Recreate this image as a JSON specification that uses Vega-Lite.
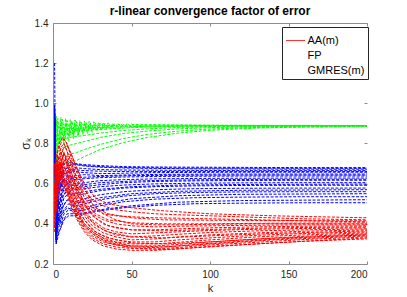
{
"$schema":"https://vega.github.io/schema/vega-lite/v6.json",
"width":314,"height":241,
"autosize":{"type":"none"},
"padding":{"left":53,"top":23,"right":40,"bottom":33},
"background":"white",
"config":{"view":{"stroke":null},"font":"Liberation Sans"},
"title":{"text":"r-linear convergence factor of error","fontSize":12,"font":"Liberation Sans","fontWeight":"bold","color":"black","offset":0,"anchor":"middle"},
"data":{"values":[
{"m":"FP","r":"g1","k":1,"s":0.55},{"m":"FP","r":"g1","k":2,"s":0.935},{"m":"FP","r":"g1","k":4,"s":0.80},{"m":"FP","r":"g1","k":5,"s":0.93},{"m":"FP","r":"g1","k":7,"s":0.82},{"m":"FP","r":"g1","k":8,"s":0.925},{"m":"FP","r":"g1","k":10,"s":0.835},{"m":"FP","r":"g1","k":11,"s":0.92},{"m":"FP","r":"g1","k":13,"s":0.845},{"m":"FP","r":"g1","k":14,"s":0.917},{"m":"FP","r":"g1","k":16,"s":0.852},{"m":"FP","r":"g1","k":17,"s":0.914},{"m":"FP","r":"g1","k":19,"s":0.858},{"m":"FP","r":"g1","k":20,"s":0.912},{"m":"FP","r":"g1","k":22,"s":0.863},{"m":"FP","r":"g1","k":23,"s":0.91},{"m":"FP","r":"g1","k":25,"s":0.867},{"m":"FP","r":"g1","k":26,"s":0.908},{"m":"FP","r":"g1","k":28,"s":0.871},{"m":"FP","r":"g1","k":29,"s":0.906},{"m":"FP","r":"g1","k":31,"s":0.874},{"m":"FP","r":"g1","k":32,"s":0.905},{"m":"FP","r":"g1","k":34,"s":0.877},{"m":"FP","r":"g1","k":35,"s":0.903},{"m":"FP","r":"g1","k":37,"s":0.879},{"m":"FP","r":"g1","k":38,"s":0.902},{"m":"FP","r":"g1","k":40,"s":0.881},{"m":"FP","r":"g1","k":41,"s":0.901},{"m":"FP","r":"g1","k":43,"s":0.883},{"m":"FP","r":"g1","k":44,"s":0.9},{"m":"FP","r":"g1","k":46,"s":0.885},{"m":"FP","r":"g1","k":47,"s":0.899},{"m":"FP","r":"g1","k":49,"s":0.886},{"m":"FP","r":"g1","k":50,"s":0.898},{"m":"FP","r":"g1","k":52,"s":0.887},{"m":"FP","r":"g1","k":60,"s":0.893},{"m":"FP","r":"g1","k":80,"s":0.892},{"m":"FP","r":"g1","k":100,"s":0.891},{"m":"FP","r":"g1","k":130,"s":0.89},{"m":"FP","r":"g1","k":160,"s":0.89},{"m":"FP","r":"g1","k":200,"s":0.889},
{"m":"FP","r":"g2","k":1,"s":0.45},{"m":"FP","r":"g2","k":2,"s":0.91},{"m":"FP","r":"g2","k":4,"s":0.76},{"m":"FP","r":"g2","k":5,"s":0.905},{"m":"FP","r":"g2","k":7,"s":0.79},{"m":"FP","r":"g2","k":8,"s":0.902},{"m":"FP","r":"g2","k":10,"s":0.81},{"m":"FP","r":"g2","k":11,"s":0.9},{"m":"FP","r":"g2","k":13,"s":0.825},{"m":"FP","r":"g2","k":14,"s":0.898},{"m":"FP","r":"g2","k":16,"s":0.835},{"m":"FP","r":"g2","k":17,"s":0.897},{"m":"FP","r":"g2","k":19,"s":0.843},{"m":"FP","r":"g2","k":20,"s":0.896},{"m":"FP","r":"g2","k":22,"s":0.85},{"m":"FP","r":"g2","k":23,"s":0.895},{"m":"FP","r":"g2","k":25,"s":0.856},{"m":"FP","r":"g2","k":26,"s":0.894},{"m":"FP","r":"g2","k":28,"s":0.861},{"m":"FP","r":"g2","k":29,"s":0.893},{"m":"FP","r":"g2","k":31,"s":0.865},{"m":"FP","r":"g2","k":32,"s":0.893},{"m":"FP","r":"g2","k":34,"s":0.869},{"m":"FP","r":"g2","k":35,"s":0.892},{"m":"FP","r":"g2","k":37,"s":0.872},{"m":"FP","r":"g2","k":38,"s":0.892},{"m":"FP","r":"g2","k":40,"s":0.875},{"m":"FP","r":"g2","k":41,"s":0.891},{"m":"FP","r":"g2","k":43,"s":0.877},{"m":"FP","r":"g2","k":44,"s":0.891},{"m":"FP","r":"g2","k":46,"s":0.879},{"m":"FP","r":"g2","k":47,"s":0.89},{"m":"FP","r":"g2","k":49,"s":0.88},{"m":"FP","r":"g2","k":50,"s":0.89},{"m":"FP","r":"g2","k":52,"s":0.882},{"m":"FP","r":"g2","k":60,"s":0.887},{"m":"FP","r":"g2","k":80,"s":0.886},{"m":"FP","r":"g2","k":100,"s":0.886},{"m":"FP","r":"g2","k":130,"s":0.885},{"m":"FP","r":"g2","k":160,"s":0.885},{"m":"FP","r":"g2","k":200,"s":0.885},
{"m":"FP","r":"g3","k":1,"s":0.65},{"m":"FP","r":"g3","k":2,"s":0.78},{"m":"FP","r":"g3","k":3,"s":0.925},{"m":"FP","r":"g3","k":5,"s":0.81},{"m":"FP","r":"g3","k":6,"s":0.92},{"m":"FP","r":"g3","k":8,"s":0.83},{"m":"FP","r":"g3","k":9,"s":0.915},{"m":"FP","r":"g3","k":11,"s":0.842},{"m":"FP","r":"g3","k":12,"s":0.912},{"m":"FP","r":"g3","k":14,"s":0.85},{"m":"FP","r":"g3","k":15,"s":0.909},{"m":"FP","r":"g3","k":17,"s":0.857},{"m":"FP","r":"g3","k":18,"s":0.907},{"m":"FP","r":"g3","k":20,"s":0.862},{"m":"FP","r":"g3","k":21,"s":0.905},{"m":"FP","r":"g3","k":23,"s":0.867},{"m":"FP","r":"g3","k":24,"s":0.903},{"m":"FP","r":"g3","k":26,"s":0.871},{"m":"FP","r":"g3","k":27,"s":0.902},{"m":"FP","r":"g3","k":29,"s":0.874},{"m":"FP","r":"g3","k":30,"s":0.901},{"m":"FP","r":"g3","k":32,"s":0.877},{"m":"FP","r":"g3","k":33,"s":0.9},{"m":"FP","r":"g3","k":35,"s":0.879},{"m":"FP","r":"g3","k":36,"s":0.899},{"m":"FP","r":"g3","k":38,"s":0.881},{"m":"FP","r":"g3","k":39,"s":0.898},{"m":"FP","r":"g3","k":41,"s":0.883},{"m":"FP","r":"g3","k":42,"s":0.897},{"m":"FP","r":"g3","k":44,"s":0.885},{"m":"FP","r":"g3","k":45,"s":0.896},{"m":"FP","r":"g3","k":47,"s":0.886},{"m":"FP","r":"g3","k":48,"s":0.895},{"m":"FP","r":"g3","k":50,"s":0.887},{"m":"FP","r":"g3","k":51,"s":0.895},{"m":"FP","r":"g3","k":60,"s":0.892},{"m":"FP","r":"g3","k":80,"s":0.891},{"m":"FP","r":"g3","k":100,"s":0.89},{"m":"FP","r":"g3","k":130,"s":0.89},{"m":"FP","r":"g3","k":160,"s":0.889},{"m":"FP","r":"g3","k":200,"s":0.889},
{"m":"FP","r":"g4","k":1,"s":0.5},{"m":"FP","r":"g4","k":3,"s":0.85},{"m":"FP","r":"g4","k":6,"s":0.86},{"m":"FP","r":"g4","k":10,"s":0.86},{"m":"FP","r":"g4","k":15,"s":0.862},{"m":"FP","r":"g4","k":20,"s":0.865},{"m":"FP","r":"g4","k":30,"s":0.87},{"m":"FP","r":"g4","k":45,"s":0.877},{"m":"FP","r":"g4","k":60,"s":0.882},{"m":"FP","r":"g4","k":80,"s":0.886},{"m":"FP","r":"g4","k":100,"s":0.888},{"m":"FP","r":"g4","k":130,"s":0.889},{"m":"FP","r":"g4","k":160,"s":0.889},{"m":"FP","r":"g4","k":200,"s":0.889},
{"m":"FP","r":"g5","k":1,"s":0.6},{"m":"FP","r":"g5","k":3,"s":0.8},{"m":"FP","r":"g5","k":6,"s":0.82},{"m":"FP","r":"g5","k":10,"s":0.83},{"m":"FP","r":"g5","k":15,"s":0.835},{"m":"FP","r":"g5","k":20,"s":0.84},{"m":"FP","r":"g5","k":30,"s":0.852},{"m":"FP","r":"g5","k":45,"s":0.865},{"m":"FP","r":"g5","k":60,"s":0.873},{"m":"FP","r":"g5","k":80,"s":0.88},{"m":"FP","r":"g5","k":100,"s":0.884},{"m":"FP","r":"g5","k":130,"s":0.887},{"m":"FP","r":"g5","k":160,"s":0.888},{"m":"FP","r":"g5","k":200,"s":0.888},
{"m":"FP","r":"g6","k":1,"s":0.4},{"m":"FP","r":"g6","k":3,"s":0.75},{"m":"FP","r":"g6","k":6,"s":0.78},{"m":"FP","r":"g6","k":10,"s":0.79},{"m":"FP","r":"g6","k":15,"s":0.8},{"m":"FP","r":"g6","k":20,"s":0.81},{"m":"FP","r":"g6","k":30,"s":0.83},{"m":"FP","r":"g6","k":45,"s":0.85},{"m":"FP","r":"g6","k":60,"s":0.862},{"m":"FP","r":"g6","k":80,"s":0.873},{"m":"FP","r":"g6","k":100,"s":0.879},{"m":"FP","r":"g6","k":130,"s":0.884},{"m":"FP","r":"g6","k":160,"s":0.886},{"m":"FP","r":"g6","k":200,"s":0.887},
{"m":"FP","r":"g7","k":1,"s":0.55},{"m":"FP","r":"g7","k":3,"s":0.72},{"m":"FP","r":"g7","k":6,"s":0.74},{"m":"FP","r":"g7","k":10,"s":0.745},{"m":"FP","r":"g7","k":15,"s":0.755},{"m":"FP","r":"g7","k":20,"s":0.77},{"m":"FP","r":"g7","k":30,"s":0.795},{"m":"FP","r":"g7","k":45,"s":0.825},{"m":"FP","r":"g7","k":60,"s":0.845},{"m":"FP","r":"g7","k":80,"s":0.862},{"m":"FP","r":"g7","k":100,"s":0.872},{"m":"FP","r":"g7","k":130,"s":0.88},{"m":"FP","r":"g7","k":160,"s":0.884},{"m":"FP","r":"g7","k":200,"s":0.886},
{"m":"FP","r":"g8","k":1,"s":0.45},{"m":"FP","r":"g8","k":3,"s":0.68},{"m":"FP","r":"g8","k":6,"s":0.7},{"m":"FP","r":"g8","k":10,"s":0.705},{"m":"FP","r":"g8","k":15,"s":0.715},{"m":"FP","r":"g8","k":20,"s":0.735},{"m":"FP","r":"g8","k":30,"s":0.77},{"m":"FP","r":"g8","k":45,"s":0.805},{"m":"FP","r":"g8","k":60,"s":0.83},{"m":"FP","r":"g8","k":80,"s":0.852},{"m":"FP","r":"g8","k":100,"s":0.866},{"m":"FP","r":"g8","k":130,"s":0.877},{"m":"FP","r":"g8","k":160,"s":0.882},{"m":"FP","r":"g8","k":200,"s":0.885},
{"m":"FP","r":"g9","k":1,"s":0.7},{"m":"FP","r":"g9","k":3,"s":0.88},{"m":"FP","r":"g9","k":6,"s":0.88},{"m":"FP","r":"g9","k":10,"s":0.875},{"m":"FP","r":"g9","k":15,"s":0.875},{"m":"FP","r":"g9","k":20,"s":0.877},{"m":"FP","r":"g9","k":30,"s":0.88},{"m":"FP","r":"g9","k":45,"s":0.883},{"m":"FP","r":"g9","k":60,"s":0.886},{"m":"FP","r":"g9","k":80,"s":0.888},{"m":"FP","r":"g9","k":100,"s":0.889},{"m":"FP","r":"g9","k":130,"s":0.889},{"m":"FP","r":"g9","k":160,"s":0.889},{"m":"FP","r":"g9","k":200,"s":0.889},
{"m":"AA(m)","r":"b1","k":1,"s":1.2},{"m":"AA(m)","r":"b1","k":2,"s":0.32},{"m":"AA(m)","r":"b1","k":3,"s":0.55},{"m":"AA(m)","r":"b1","k":5,"s":0.68},{"m":"AA(m)","r":"b1","k":7,"s":0.7},{"m":"AA(m)","r":"b1","k":10,"s":0.71},{"m":"AA(m)","r":"b1","k":14,"s":0.7},{"m":"AA(m)","r":"b1","k":20,"s":0.695},{"m":"AA(m)","r":"b1","k":30,"s":0.69},{"m":"AA(m)","r":"b1","k":45,"s":0.685},{"m":"AA(m)","r":"b1","k":65,"s":0.683},{"m":"AA(m)","r":"b1","k":90,"s":0.682},{"m":"AA(m)","r":"b1","k":120,"s":0.681},{"m":"AA(m)","r":"b1","k":160,"s":0.68},{"m":"AA(m)","r":"b1","k":200,"s":0.68},
{"m":"AA(m)","r":"b2","k":1,"s":0.97},{"m":"AA(m)","r":"b2","k":2,"s":0.45},{"m":"AA(m)","r":"b2","k":3,"s":0.6},{"m":"AA(m)","r":"b2","k":5,"s":0.7},{"m":"AA(m)","r":"b2","k":7,"s":0.66},{"m":"AA(m)","r":"b2","k":10,"s":0.69},{"m":"AA(m)","r":"b2","k":14,"s":0.695},{"m":"AA(m)","r":"b2","k":20,"s":0.688},{"m":"AA(m)","r":"b2","k":30,"s":0.682},{"m":"AA(m)","r":"b2","k":45,"s":0.678},{"m":"AA(m)","r":"b2","k":65,"s":0.676},{"m":"AA(m)","r":"b2","k":90,"s":0.674},{"m":"AA(m)","r":"b2","k":120,"s":0.673},{"m":"AA(m)","r":"b2","k":160,"s":0.672},{"m":"AA(m)","r":"b2","k":200,"s":0.672},
{"m":"AA(m)","r":"b3","k":1,"s":0.93},{"m":"AA(m)","r":"b3","k":2,"s":0.38},{"m":"AA(m)","r":"b3","k":3,"s":0.5},{"m":"AA(m)","r":"b3","k":5,"s":0.62},{"m":"AA(m)","r":"b3","k":7,"s":0.68},{"m":"AA(m)","r":"b3","k":10,"s":0.66},{"m":"AA(m)","r":"b3","k":14,"s":0.68},{"m":"AA(m)","r":"b3","k":20,"s":0.675},{"m":"AA(m)","r":"b3","k":30,"s":0.67},{"m":"AA(m)","r":"b3","k":45,"s":0.668},{"m":"AA(m)","r":"b3","k":65,"s":0.667},{"m":"AA(m)","r":"b3","k":90,"s":0.666},{"m":"AA(m)","r":"b3","k":120,"s":0.665},{"m":"AA(m)","r":"b3","k":160,"s":0.665},{"m":"AA(m)","r":"b3","k":200,"s":0.665},
{"m":"AA(m)","r":"b4","k":1,"s":0.99},{"m":"AA(m)","r":"b4","k":2,"s":0.5},{"m":"AA(m)","r":"b4","k":3,"s":0.65},{"m":"AA(m)","r":"b4","k":5,"s":0.58},{"m":"AA(m)","r":"b4","k":7,"s":0.64},{"m":"AA(m)","r":"b4","k":10,"s":0.67},{"m":"AA(m)","r":"b4","k":14,"s":0.66},{"m":"AA(m)","r":"b4","k":20,"s":0.655},{"m":"AA(m)","r":"b4","k":30,"s":0.65},{"m":"AA(m)","r":"b4","k":45,"s":0.652},{"m":"AA(m)","r":"b4","k":65,"s":0.655},{"m":"AA(m)","r":"b4","k":90,"s":0.656},{"m":"AA(m)","r":"b4","k":120,"s":0.657},{"m":"AA(m)","r":"b4","k":160,"s":0.657},{"m":"AA(m)","r":"b4","k":200,"s":0.657},
{"m":"AA(m)","r":"b5","k":1,"s":0.9},{"m":"AA(m)","r":"b5","k":2,"s":0.34},{"m":"AA(m)","r":"b5","k":3,"s":0.45},{"m":"AA(m)","r":"b5","k":5,"s":0.55},{"m":"AA(m)","r":"b5","k":7,"s":0.62},{"m":"AA(m)","r":"b5","k":10,"s":0.6},{"m":"AA(m)","r":"b5","k":14,"s":0.64},{"m":"AA(m)","r":"b5","k":20,"s":0.645},{"m":"AA(m)","r":"b5","k":30,"s":0.64},{"m":"AA(m)","r":"b5","k":45,"s":0.643},{"m":"AA(m)","r":"b5","k":65,"s":0.646},{"m":"AA(m)","r":"b5","k":90,"s":0.647},{"m":"AA(m)","r":"b5","k":120,"s":0.648},{"m":"AA(m)","r":"b5","k":160,"s":0.648},{"m":"AA(m)","r":"b5","k":200,"s":0.648},
{"m":"AA(m)","r":"b6","k":1,"s":0.95},{"m":"AA(m)","r":"b6","k":2,"s":0.42},{"m":"AA(m)","r":"b6","k":3,"s":0.58},{"m":"AA(m)","r":"b6","k":5,"s":0.66},{"m":"AA(m)","r":"b6","k":7,"s":0.6},{"m":"AA(m)","r":"b6","k":10,"s":0.63},{"m":"AA(m)","r":"b6","k":14,"s":0.62},{"m":"AA(m)","r":"b6","k":20,"s":0.625},{"m":"AA(m)","r":"b6","k":30,"s":0.63},{"m":"AA(m)","r":"b6","k":45,"s":0.633},{"m":"AA(m)","r":"b6","k":65,"s":0.636},{"m":"AA(m)","r":"b6","k":90,"s":0.637},{"m":"AA(m)","r":"b6","k":120,"s":0.638},{"m":"AA(m)","r":"b6","k":160,"s":0.638},{"m":"AA(m)","r":"b6","k":200,"s":0.638},
{"m":"AA(m)","r":"b7","k":1,"s":0.88},{"m":"AA(m)","r":"b7","k":2,"s":0.36},{"m":"AA(m)","r":"b7","k":3,"s":0.48},{"m":"AA(m)","r":"b7","k":5,"s":0.52},{"m":"AA(m)","r":"b7","k":7,"s":0.58},{"m":"AA(m)","r":"b7","k":10,"s":0.61},{"m":"AA(m)","r":"b7","k":14,"s":0.6},{"m":"AA(m)","r":"b7","k":20,"s":0.605},{"m":"AA(m)","r":"b7","k":30,"s":0.615},{"m":"AA(m)","r":"b7","k":45,"s":0.62},{"m":"AA(m)","r":"b7","k":65,"s":0.624},{"m":"AA(m)","r":"b7","k":90,"s":0.626},{"m":"AA(m)","r":"b7","k":120,"s":0.627},{"m":"AA(m)","r":"b7","k":160,"s":0.628},{"m":"AA(m)","r":"b7","k":200,"s":0.628},
{"m":"AA(m)","r":"b8","k":1,"s":0.92},{"m":"AA(m)","r":"b8","k":2,"s":0.3},{"m":"AA(m)","r":"b8","k":3,"s":0.42},{"m":"AA(m)","r":"b8","k":5,"s":0.5},{"m":"AA(m)","r":"b8","k":7,"s":0.55},{"m":"AA(m)","r":"b8","k":10,"s":0.57},{"m":"AA(m)","r":"b8","k":14,"s":0.58},{"m":"AA(m)","r":"b8","k":20,"s":0.585},{"m":"AA(m)","r":"b8","k":30,"s":0.595},{"m":"AA(m)","r":"b8","k":45,"s":0.605},{"m":"AA(m)","r":"b8","k":65,"s":0.611},{"m":"AA(m)","r":"b8","k":90,"s":0.614},{"m":"AA(m)","r":"b8","k":120,"s":0.616},{"m":"AA(m)","r":"b8","k":160,"s":0.617},{"m":"AA(m)","r":"b8","k":200,"s":0.617},
{"m":"AA(m)","r":"b9","k":1,"s":0.96},{"m":"AA(m)","r":"b9","k":2,"s":0.48},{"m":"AA(m)","r":"b9","k":3,"s":0.62},{"m":"AA(m)","r":"b9","k":5,"s":0.6},{"m":"AA(m)","r":"b9","k":7,"s":0.56},{"m":"AA(m)","r":"b9","k":10,"s":0.59},{"m":"AA(m)","r":"b9","k":14,"s":0.57},{"m":"AA(m)","r":"b9","k":20,"s":0.575},{"m":"AA(m)","r":"b9","k":30,"s":0.585},{"m":"AA(m)","r":"b9","k":45,"s":0.593},{"m":"AA(m)","r":"b9","k":65,"s":0.599},{"m":"AA(m)","r":"b9","k":90,"s":0.602},{"m":"AA(m)","r":"b9","k":120,"s":0.604},{"m":"AA(m)","r":"b9","k":160,"s":0.605},{"m":"AA(m)","r":"b9","k":200,"s":0.605},
{"m":"AA(m)","r":"b10","k":1,"s":0.86},{"m":"AA(m)","r":"b10","k":2,"s":0.33},{"m":"AA(m)","r":"b10","k":3,"s":0.4},{"m":"AA(m)","r":"b10","k":5,"s":0.47},{"m":"AA(m)","r":"b10","k":7,"s":0.53},{"m":"AA(m)","r":"b10","k":10,"s":0.55},{"m":"AA(m)","r":"b10","k":14,"s":0.54},{"m":"AA(m)","r":"b10","k":20,"s":0.55},{"m":"AA(m)","r":"b10","k":30,"s":0.565},{"m":"AA(m)","r":"b10","k":45,"s":0.578},{"m":"AA(m)","r":"b10","k":65,"s":0.585},{"m":"AA(m)","r":"b10","k":90,"s":0.589},{"m":"AA(m)","r":"b10","k":120,"s":0.591},{"m":"AA(m)","r":"b10","k":160,"s":0.592},{"m":"AA(m)","r":"b10","k":200,"s":0.592},
{"m":"AA(m)","r":"b11","k":1,"s":0.94},{"m":"AA(m)","r":"b11","k":2,"s":0.4},{"m":"AA(m)","r":"b11","k":3,"s":0.52},{"m":"AA(m)","r":"b11","k":5,"s":0.45},{"m":"AA(m)","r":"b11","k":7,"s":0.5},{"m":"AA(m)","r":"b11","k":10,"s":0.52},{"m":"AA(m)","r":"b11","k":14,"s":0.51},{"m":"AA(m)","r":"b11","k":20,"s":0.525},{"m":"AA(m)","r":"b11","k":30,"s":0.545},{"m":"AA(m)","r":"b11","k":45,"s":0.56},{"m":"AA(m)","r":"b11","k":65,"s":0.57},{"m":"AA(m)","r":"b11","k":90,"s":0.575},{"m":"AA(m)","r":"b11","k":120,"s":0.577},{"m":"AA(m)","r":"b11","k":160,"s":0.578},{"m":"AA(m)","r":"b11","k":200,"s":0.578},
{"m":"AA(m)","r":"b12","k":1,"s":0.91},{"m":"AA(m)","r":"b12","k":2,"s":0.35},{"m":"AA(m)","r":"b12","k":3,"s":0.38},{"m":"AA(m)","r":"b12","k":5,"s":0.44},{"m":"AA(m)","r":"b12","k":7,"s":0.47},{"m":"AA(m)","r":"b12","k":10,"s":0.5},{"m":"AA(m)","r":"b12","k":14,"s":0.49},{"m":"AA(m)","r":"b12","k":20,"s":0.5},{"m":"AA(m)","r":"b12","k":30,"s":0.52},{"m":"AA(m)","r":"b12","k":45,"s":0.538},{"m":"AA(m)","r":"b12","k":65,"s":0.55},{"m":"AA(m)","r":"b12","k":90,"s":0.556},{"m":"AA(m)","r":"b12","k":120,"s":0.559},{"m":"AA(m)","r":"b12","k":160,"s":0.56},{"m":"AA(m)","r":"b12","k":200,"s":0.56},
{"m":"AA(m)","r":"b13","k":1,"s":0.98},{"m":"AA(m)","r":"b13","k":2,"s":0.46},{"m":"AA(m)","r":"b13","k":3,"s":0.44},{"m":"AA(m)","r":"b13","k":5,"s":0.4},{"m":"AA(m)","r":"b13","k":7,"s":0.45},{"m":"AA(m)","r":"b13","k":10,"s":0.47},{"m":"AA(m)","r":"b13","k":14,"s":0.46},{"m":"AA(m)","r":"b13","k":20,"s":0.47},{"m":"AA(m)","r":"b13","k":30,"s":0.49},{"m":"AA(m)","r":"b13","k":45,"s":0.51},{"m":"AA(m)","r":"b13","k":65,"s":0.523},{"m":"AA(m)","r":"b13","k":90,"s":0.53},{"m":"AA(m)","r":"b13","k":120,"s":0.533},{"m":"AA(m)","r":"b13","k":160,"s":0.535},{"m":"AA(m)","r":"b13","k":200,"s":0.535},
{"m":"AA(m)","r":"b14","k":1,"s":0.87},{"m":"AA(m)","r":"b14","k":2,"s":0.31},{"m":"AA(m)","r":"b14","k":3,"s":0.35},{"m":"AA(m)","r":"b14","k":5,"s":0.38},{"m":"AA(m)","r":"b14","k":7,"s":0.42},{"m":"AA(m)","r":"b14","k":10,"s":0.44},{"m":"AA(m)","r":"b14","k":14,"s":0.44},{"m":"AA(m)","r":"b14","k":20,"s":0.45},{"m":"AA(m)","r":"b14","k":30,"s":0.465},{"m":"AA(m)","r":"b14","k":45,"s":0.48},{"m":"AA(m)","r":"b14","k":65,"s":0.492},{"m":"AA(m)","r":"b14","k":90,"s":0.5},{"m":"AA(m)","r":"b14","k":120,"s":0.503},{"m":"AA(m)","r":"b14","k":160,"s":0.505},{"m":"AA(m)","r":"b14","k":200,"s":0.505},
{"m":"AA(m)","r":"b15","k":1,"s":0.95},{"m":"AA(m)","r":"b15","k":2,"s":0.4},{"m":"AA(m)","r":"b15","k":4,"s":0.64},{"m":"AA(m)","r":"b15","k":6,"s":0.7},{"m":"AA(m)","r":"b15","k":9,"s":0.69},{"m":"AA(m)","r":"b15","k":13,"s":0.7},{"m":"AA(m)","r":"b15","k":20,"s":0.69},{"m":"AA(m)","r":"b15","k":30,"s":0.685},{"m":"AA(m)","r":"b15","k":50,"s":0.68},{"m":"AA(m)","r":"b15","k":80,"s":0.678},{"m":"AA(m)","r":"b15","k":120,"s":0.677},{"m":"AA(m)","r":"b15","k":200,"s":0.676},
{"m":"AA(m)","r":"b16","k":1,"s":0.89},{"m":"AA(m)","r":"b16","k":2,"s":0.52},{"m":"AA(m)","r":"b16","k":4,"s":0.6},{"m":"AA(m)","r":"b16","k":6,"s":0.66},{"m":"AA(m)","r":"b16","k":9,"s":0.64},{"m":"AA(m)","r":"b16","k":13,"s":0.67},{"m":"AA(m)","r":"b16","k":20,"s":0.665},{"m":"AA(m)","r":"b16","k":30,"s":0.662},{"m":"AA(m)","r":"b16","k":50,"s":0.66},{"m":"AA(m)","r":"b16","k":80,"s":0.661},{"m":"AA(m)","r":"b16","k":120,"s":0.661},{"m":"AA(m)","r":"b16","k":200,"s":0.661},
{"m":"AA(m)","r":"b17","k":1,"s":0.97},{"m":"AA(m)","r":"b17","k":2,"s":0.37},{"m":"AA(m)","r":"b17","k":4,"s":0.56},{"m":"AA(m)","r":"b17","k":6,"s":0.61},{"m":"AA(m)","r":"b17","k":9,"s":0.64},{"m":"AA(m)","r":"b17","k":13,"s":0.63},{"m":"AA(m)","r":"b17","k":20,"s":0.632},{"m":"AA(m)","r":"b17","k":30,"s":0.636},{"m":"AA(m)","r":"b17","k":50,"s":0.64},{"m":"AA(m)","r":"b17","k":80,"s":0.642},{"m":"AA(m)","r":"b17","k":120,"s":0.643},{"m":"AA(m)","r":"b17","k":200,"s":0.643},
{"m":"AA(m)","r":"b18","k":1,"s":0.92},{"m":"AA(m)","r":"b18","k":2,"s":0.44},{"m":"AA(m)","r":"b18","k":4,"s":0.5},{"m":"AA(m)","r":"b18","k":6,"s":0.57},{"m":"AA(m)","r":"b18","k":9,"s":0.6},{"m":"AA(m)","r":"b18","k":13,"s":0.59},{"m":"AA(m)","r":"b18","k":20,"s":0.595},{"m":"AA(m)","r":"b18","k":30,"s":0.605},{"m":"AA(m)","r":"b18","k":50,"s":0.613},{"m":"AA(m)","r":"b18","k":80,"s":0.618},{"m":"AA(m)","r":"b18","k":120,"s":0.621},{"m":"AA(m)","r":"b18","k":200,"s":0.622},
{"m":"AA(m)","r":"b19","k":1,"s":0.85},{"m":"AA(m)","r":"b19","k":2,"s":0.32},{"m":"AA(m)","r":"b19","k":4,"s":0.46},{"m":"AA(m)","r":"b19","k":6,"s":0.54},{"m":"AA(m)","r":"b19","k":9,"s":0.56},{"m":"AA(m)","r":"b19","k":13,"s":0.55},{"m":"AA(m)","r":"b19","k":20,"s":0.56},{"m":"AA(m)","r":"b19","k":30,"s":0.572},{"m":"AA(m)","r":"b19","k":50,"s":0.585},{"m":"AA(m)","r":"b19","k":80,"s":0.593},{"m":"AA(m)","r":"b19","k":120,"s":0.596},{"m":"AA(m)","r":"b19","k":200,"s":0.598},
{"m":"AA(m)","r":"b20","k":1,"s":0.99},{"m":"AA(m)","r":"b20","k":2,"s":0.49},{"m":"AA(m)","r":"b20","k":4,"s":0.42},{"m":"AA(m)","r":"b20","k":6,"s":0.48},{"m":"AA(m)","r":"b20","k":9,"s":0.52},{"m":"AA(m)","r":"b20","k":13,"s":0.5},{"m":"AA(m)","r":"b20","k":20,"s":0.51},{"m":"AA(m)","r":"b20","k":30,"s":0.53},{"m":"AA(m)","r":"b20","k":50,"s":0.55},{"m":"AA(m)","r":"b20","k":80,"s":0.562},{"m":"AA(m)","r":"b20","k":120,"s":0.567},{"m":"AA(m)","r":"b20","k":200,"s":0.57},
{"m":"AA(m)","r":"b21","k":1,"s":0.9},{"m":"AA(m)","r":"b21","k":2,"s":0.34},{"m":"AA(m)","r":"b21","k":4,"s":0.39},{"m":"AA(m)","r":"b21","k":6,"s":0.45},{"m":"AA(m)","r":"b21","k":9,"s":0.48},{"m":"AA(m)","r":"b21","k":13,"s":0.47},{"m":"AA(m)","r":"b21","k":20,"s":0.48},{"m":"AA(m)","r":"b21","k":30,"s":0.5},{"m":"AA(m)","r":"b21","k":50,"s":0.525},{"m":"AA(m)","r":"b21","k":80,"s":0.54},{"m":"AA(m)","r":"b21","k":120,"s":0.547},{"m":"AA(m)","r":"b21","k":200,"s":0.55},
{"m":"AA(m)","r":"b22","k":1,"s":0.93},{"m":"AA(m)","r":"b22","k":2,"s":0.3},{"m":"AA(m)","r":"b22","k":4,"s":0.36},{"m":"AA(m)","r":"b22","k":6,"s":0.41},{"m":"AA(m)","r":"b22","k":9,"s":0.45},{"m":"AA(m)","r":"b22","k":13,"s":0.45},{"m":"AA(m)","r":"b22","k":20,"s":0.455},{"m":"AA(m)","r":"b22","k":30,"s":0.47},{"m":"AA(m)","r":"b22","k":50,"s":0.49},{"m":"AA(m)","r":"b22","k":80,"s":0.508},{"m":"AA(m)","r":"b22","k":120,"s":0.516},{"m":"AA(m)","r":"b22","k":200,"s":0.52},
{"m":"GMRES(m)","r":"r1","k":1,"s":0.55},{"m":"GMRES(m)","r":"r1","k":2,"s":0.7},{"m":"GMRES(m)","r":"r1","k":3,"s":0.76},{"m":"GMRES(m)","r":"r1","k":5,"s":0.8},{"m":"GMRES(m)","r":"r1","k":7,"s":0.82},{"m":"GMRES(m)","r":"r1","k":9,"s":0.8},{"m":"GMRES(m)","r":"r1","k":12,"s":0.72},{"m":"GMRES(m)","r":"r1","k":16,"s":0.64},{"m":"GMRES(m)","r":"r1","k":20,"s":0.57},{"m":"GMRES(m)","r":"r1","k":25,"s":0.52},{"m":"GMRES(m)","r":"r1","k":32,"s":0.49},{"m":"GMRES(m)","r":"r1","k":40,"s":0.47},{"m":"GMRES(m)","r":"r1","k":50,"s":0.46},{"m":"GMRES(m)","r":"r1","k":65,"s":0.45},{"m":"GMRES(m)","r":"r1","k":80,"s":0.445},{"m":"GMRES(m)","r":"r1","k":100,"s":0.44},{"m":"GMRES(m)","r":"r1","k":130,"s":0.432},{"m":"GMRES(m)","r":"r1","k":160,"s":0.425},{"m":"GMRES(m)","r":"r1","k":200,"s":0.42},
{"m":"GMRES(m)","r":"r2","k":1,"s":0.45},{"m":"GMRES(m)","r":"r2","k":2,"s":0.62},{"m":"GMRES(m)","r":"r2","k":3,"s":0.7},{"m":"GMRES(m)","r":"r2","k":5,"s":0.78},{"m":"GMRES(m)","r":"r2","k":7,"s":0.8},{"m":"GMRES(m)","r":"r2","k":9,"s":0.76},{"m":"GMRES(m)","r":"r2","k":12,"s":0.7},{"m":"GMRES(m)","r":"r2","k":16,"s":0.6},{"m":"GMRES(m)","r":"r2","k":20,"s":0.53},{"m":"GMRES(m)","r":"r2","k":25,"s":0.48},{"m":"GMRES(m)","r":"r2","k":32,"s":0.45},{"m":"GMRES(m)","r":"r2","k":40,"s":0.44},{"m":"GMRES(m)","r":"r2","k":50,"s":0.435},{"m":"GMRES(m)","r":"r2","k":65,"s":0.43},{"m":"GMRES(m)","r":"r2","k":80,"s":0.428},{"m":"GMRES(m)","r":"r2","k":100,"s":0.425},{"m":"GMRES(m)","r":"r2","k":130,"s":0.42},{"m":"GMRES(m)","r":"r2","k":160,"s":0.415},{"m":"GMRES(m)","r":"r2","k":200,"s":0.41},
{"m":"GMRES(m)","r":"r3","k":1,"s":0.6},{"m":"GMRES(m)","r":"r3","k":2,"s":0.5},{"m":"GMRES(m)","r":"r3","k":3,"s":0.65},{"m":"GMRES(m)","r":"r3","k":5,"s":0.74},{"m":"GMRES(m)","r":"r3","k":7,"s":0.78},{"m":"GMRES(m)","r":"r3","k":9,"s":0.79},{"m":"GMRES(m)","r":"r3","k":12,"s":0.74},{"m":"GMRES(m)","r":"r3","k":16,"s":0.66},{"m":"GMRES(m)","r":"r3","k":20,"s":0.58},{"m":"GMRES(m)","r":"r3","k":25,"s":0.5},{"m":"GMRES(m)","r":"r3","k":32,"s":0.45},{"m":"GMRES(m)","r":"r3","k":40,"s":0.42},{"m":"GMRES(m)","r":"r3","k":50,"s":0.4},{"m":"GMRES(m)","r":"r3","k":65,"s":0.395},{"m":"GMRES(m)","r":"r3","k":80,"s":0.395},{"m":"GMRES(m)","r":"r3","k":100,"s":0.398},{"m":"GMRES(m)","r":"r3","k":130,"s":0.4},{"m":"GMRES(m)","r":"r3","k":160,"s":0.4},{"m":"GMRES(m)","r":"r3","k":200,"s":0.4},
{"m":"GMRES(m)","r":"r4","k":1,"s":0.38},{"m":"GMRES(m)","r":"r4","k":2,"s":0.55},{"m":"GMRES(m)","r":"r4","k":3,"s":0.6},{"m":"GMRES(m)","r":"r4","k":5,"s":0.7},{"m":"GMRES(m)","r":"r4","k":7,"s":0.75},{"m":"GMRES(m)","r":"r4","k":9,"s":0.72},{"m":"GMRES(m)","r":"r4","k":12,"s":0.65},{"m":"GMRES(m)","r":"r4","k":16,"s":0.56},{"m":"GMRES(m)","r":"r4","k":20,"s":0.5},{"m":"GMRES(m)","r":"r4","k":25,"s":0.45},{"m":"GMRES(m)","r":"r4","k":32,"s":0.42},{"m":"GMRES(m)","r":"r4","k":40,"s":0.4},{"m":"GMRES(m)","r":"r4","k":50,"s":0.39},{"m":"GMRES(m)","r":"r4","k":65,"s":0.385},{"m":"GMRES(m)","r":"r4","k":80,"s":0.388},{"m":"GMRES(m)","r":"r4","k":100,"s":0.39},{"m":"GMRES(m)","r":"r4","k":130,"s":0.393},{"m":"GMRES(m)","r":"r4","k":160,"s":0.395},{"m":"GMRES(m)","r":"r4","k":200,"s":0.395},
{"m":"GMRES(m)","r":"r5","k":1,"s":0.7},{"m":"GMRES(m)","r":"r5","k":2,"s":0.6},{"m":"GMRES(m)","r":"r5","k":3,"s":0.72},{"m":"GMRES(m)","r":"r5","k":5,"s":0.76},{"m":"GMRES(m)","r":"r5","k":7,"s":0.7},{"m":"GMRES(m)","r":"r5","k":9,"s":0.74},{"m":"GMRES(m)","r":"r5","k":12,"s":0.68},{"m":"GMRES(m)","r":"r5","k":16,"s":0.58},{"m":"GMRES(m)","r":"r5","k":20,"s":0.5},{"m":"GMRES(m)","r":"r5","k":25,"s":0.44},{"m":"GMRES(m)","r":"r5","k":32,"s":0.4},{"m":"GMRES(m)","r":"r5","k":40,"s":0.38},{"m":"GMRES(m)","r":"r5","k":50,"s":0.37},{"m":"GMRES(m)","r":"r5","k":65,"s":0.37},{"m":"GMRES(m)","r":"r5","k":80,"s":0.375},{"m":"GMRES(m)","r":"r5","k":100,"s":0.38},{"m":"GMRES(m)","r":"r5","k":130,"s":0.385},{"m":"GMRES(m)","r":"r5","k":160,"s":0.388},{"m":"GMRES(m)","r":"r5","k":200,"s":0.39},
{"m":"GMRES(m)","r":"r6","k":1,"s":0.42},{"m":"GMRES(m)","r":"r6","k":2,"s":0.58},{"m":"GMRES(m)","r":"r6","k":3,"s":0.55},{"m":"GMRES(m)","r":"r6","k":5,"s":0.65},{"m":"GMRES(m)","r":"r6","k":7,"s":0.72},{"m":"GMRES(m)","r":"r6","k":9,"s":0.7},{"m":"GMRES(m)","r":"r6","k":12,"s":0.62},{"m":"GMRES(m)","r":"r6","k":16,"s":0.54},{"m":"GMRES(m)","r":"r6","k":20,"s":0.47},{"m":"GMRES(m)","r":"r6","k":25,"s":0.42},{"m":"GMRES(m)","r":"r6","k":32,"s":0.38},{"m":"GMRES(m)","r":"r6","k":40,"s":0.36},{"m":"GMRES(m)","r":"r6","k":50,"s":0.35},{"m":"GMRES(m)","r":"r6","k":65,"s":0.355},{"m":"GMRES(m)","r":"r6","k":80,"s":0.36},{"m":"GMRES(m)","r":"r6","k":100,"s":0.367},{"m":"GMRES(m)","r":"r6","k":130,"s":0.373},{"m":"GMRES(m)","r":"r6","k":160,"s":0.377},{"m":"GMRES(m)","r":"r6","k":200,"s":0.38},
{"m":"GMRES(m)","r":"r7","k":1,"s":0.5},{"m":"GMRES(m)","r":"r7","k":2,"s":0.66},{"m":"GMRES(m)","r":"r7","k":3,"s":0.7},{"m":"GMRES(m)","r":"r7","k":5,"s":0.68},{"m":"GMRES(m)","r":"r7","k":7,"s":0.76},{"m":"GMRES(m)","r":"r7","k":9,"s":0.68},{"m":"GMRES(m)","r":"r7","k":12,"s":0.6},{"m":"GMRES(m)","r":"r7","k":16,"s":0.52},{"m":"GMRES(m)","r":"r7","k":20,"s":0.46},{"m":"GMRES(m)","r":"r7","k":25,"s":0.41},{"m":"GMRES(m)","r":"r7","k":32,"s":0.37},{"m":"GMRES(m)","r":"r7","k":40,"s":0.345},{"m":"GMRES(m)","r":"r7","k":50,"s":0.335},{"m":"GMRES(m)","r":"r7","k":65,"s":0.34},{"m":"GMRES(m)","r":"r7","k":80,"s":0.348},{"m":"GMRES(m)","r":"r7","k":100,"s":0.357},{"m":"GMRES(m)","r":"r7","k":130,"s":0.365},{"m":"GMRES(m)","r":"r7","k":160,"s":0.37},{"m":"GMRES(m)","r":"r7","k":200,"s":0.375},
{"m":"GMRES(m)","r":"r8","k":1,"s":0.36},{"m":"GMRES(m)","r":"r8","k":2,"s":0.48},{"m":"GMRES(m)","r":"r8","k":3,"s":0.58},{"m":"GMRES(m)","r":"r8","k":5,"s":0.72},{"m":"GMRES(m)","r":"r8","k":7,"s":0.68},{"m":"GMRES(m)","r":"r8","k":9,"s":0.66},{"m":"GMRES(m)","r":"r8","k":12,"s":0.58},{"m":"GMRES(m)","r":"r8","k":16,"s":0.5},{"m":"GMRES(m)","r":"r8","k":20,"s":0.44},{"m":"GMRES(m)","r":"r8","k":25,"s":0.39},{"m":"GMRES(m)","r":"r8","k":32,"s":0.355},{"m":"GMRES(m)","r":"r8","k":40,"s":0.335},{"m":"GMRES(m)","r":"r8","k":50,"s":0.32},{"m":"GMRES(m)","r":"r8","k":65,"s":0.325},{"m":"GMRES(m)","r":"r8","k":80,"s":0.335},{"m":"GMRES(m)","r":"r8","k":100,"s":0.345},{"m":"GMRES(m)","r":"r8","k":130,"s":0.355},{"m":"GMRES(m)","r":"r8","k":160,"s":0.363},{"m":"GMRES(m)","r":"r8","k":200,"s":0.37},
{"m":"GMRES(m)","r":"r9","k":1,"s":0.65},{"m":"GMRES(m)","r":"r9","k":2,"s":0.72},{"m":"GMRES(m)","r":"r9","k":3,"s":0.68},{"m":"GMRES(m)","r":"r9","k":5,"s":0.62},{"m":"GMRES(m)","r":"r9","k":7,"s":0.7},{"m":"GMRES(m)","r":"r9","k":9,"s":0.64},{"m":"GMRES(m)","r":"r9","k":12,"s":0.56},{"m":"GMRES(m)","r":"r9","k":16,"s":0.48},{"m":"GMRES(m)","r":"r9","k":20,"s":0.42},{"m":"GMRES(m)","r":"r9","k":25,"s":0.37},{"m":"GMRES(m)","r":"r9","k":32,"s":0.34},{"m":"GMRES(m)","r":"r9","k":40,"s":0.32},{"m":"GMRES(m)","r":"r9","k":50,"s":0.31},{"m":"GMRES(m)","r":"r9","k":65,"s":0.31},{"m":"GMRES(m)","r":"r9","k":80,"s":0.32},{"m":"GMRES(m)","r":"r9","k":100,"s":0.33},{"m":"GMRES(m)","r":"r9","k":130,"s":0.343},{"m":"GMRES(m)","r":"r9","k":160,"s":0.352},{"m":"GMRES(m)","r":"r9","k":200,"s":0.36},
{"m":"GMRES(m)","r":"r10","k":1,"s":0.4},{"m":"GMRES(m)","r":"r10","k":2,"s":0.52},{"m":"GMRES(m)","r":"r10","k":3,"s":0.62},{"m":"GMRES(m)","r":"r10","k":5,"s":0.6},{"m":"GMRES(m)","r":"r10","k":7,"s":0.66},{"m":"GMRES(m)","r":"r10","k":9,"s":0.62},{"m":"GMRES(m)","r":"r10","k":12,"s":0.54},{"m":"GMRES(m)","r":"r10","k":16,"s":0.46},{"m":"GMRES(m)","r":"r10","k":20,"s":0.4},{"m":"GMRES(m)","r":"r10","k":25,"s":0.36},{"m":"GMRES(m)","r":"r10","k":32,"s":0.33},{"m":"GMRES(m)","r":"r10","k":40,"s":0.31},{"m":"GMRES(m)","r":"r10","k":50,"s":0.3},{"m":"GMRES(m)","r":"r10","k":65,"s":0.3},{"m":"GMRES(m)","r":"r10","k":80,"s":0.308},{"m":"GMRES(m)","r":"r10","k":100,"s":0.32},{"m":"GMRES(m)","r":"r10","k":130,"s":0.335},{"m":"GMRES(m)","r":"r10","k":160,"s":0.345},{"m":"GMRES(m)","r":"r10","k":200,"s":0.355},
{"m":"GMRES(m)","r":"r11","k":1,"s":0.48},{"m":"GMRES(m)","r":"r11","k":2,"s":0.64},{"m":"GMRES(m)","r":"r11","k":3,"s":0.74},{"m":"GMRES(m)","r":"r11","k":5,"s":0.66},{"m":"GMRES(m)","r":"r11","k":7,"s":0.62},{"m":"GMRES(m)","r":"r11","k":9,"s":0.6},{"m":"GMRES(m)","r":"r11","k":12,"s":0.52},{"m":"GMRES(m)","r":"r11","k":16,"s":0.45},{"m":"GMRES(m)","r":"r11","k":20,"s":0.39},{"m":"GMRES(m)","r":"r11","k":25,"s":0.35},{"m":"GMRES(m)","r":"r11","k":32,"s":0.32},{"m":"GMRES(m)","r":"r11","k":40,"s":0.3},{"m":"GMRES(m)","r":"r11","k":50,"s":0.29},{"m":"GMRES(m)","r":"r11","k":65,"s":0.29},{"m":"GMRES(m)","r":"r11","k":80,"s":0.298},{"m":"GMRES(m)","r":"r11","k":100,"s":0.31},{"m":"GMRES(m)","r":"r11","k":130,"s":0.325},{"m":"GMRES(m)","r":"r11","k":160,"s":0.338},{"m":"GMRES(m)","r":"r11","k":200,"s":0.35},
{"m":"GMRES(m)","r":"r12","k":1,"s":0.58},{"m":"GMRES(m)","r":"r12","k":2,"s":0.46},{"m":"GMRES(m)","r":"r12","k":3,"s":0.52},{"m":"GMRES(m)","r":"r12","k":5,"s":0.58},{"m":"GMRES(m)","r":"r12","k":7,"s":0.6},{"m":"GMRES(m)","r":"r12","k":9,"s":0.56},{"m":"GMRES(m)","r":"r12","k":12,"s":0.5},{"m":"GMRES(m)","r":"r12","k":16,"s":0.43},{"m":"GMRES(m)","r":"r12","k":20,"s":0.38},{"m":"GMRES(m)","r":"r12","k":25,"s":0.34},{"m":"GMRES(m)","r":"r12","k":32,"s":0.31},{"m":"GMRES(m)","r":"r12","k":40,"s":0.295},{"m":"GMRES(m)","r":"r12","k":50,"s":0.285},{"m":"GMRES(m)","r":"r12","k":65,"s":0.282},{"m":"GMRES(m)","r":"r12","k":80,"s":0.29},{"m":"GMRES(m)","r":"r12","k":100,"s":0.303},{"m":"GMRES(m)","r":"r12","k":130,"s":0.318},{"m":"GMRES(m)","r":"r12","k":160,"s":0.332},{"m":"GMRES(m)","r":"r12","k":200,"s":0.345},
{"m":"GMRES(m)","r":"r13","k":1,"s":0.44},{"m":"GMRES(m)","r":"r13","k":2,"s":0.56},{"m":"GMRES(m)","r":"r13","k":3,"s":0.64},{"m":"GMRES(m)","r":"r13","k":5,"s":0.7},{"m":"GMRES(m)","r":"r13","k":7,"s":0.64},{"m":"GMRES(m)","r":"r13","k":9,"s":0.58},{"m":"GMRES(m)","r":"r13","k":12,"s":0.48},{"m":"GMRES(m)","r":"r13","k":16,"s":0.42},{"m":"GMRES(m)","r":"r13","k":20,"s":0.37},{"m":"GMRES(m)","r":"r13","k":25,"s":0.33},{"m":"GMRES(m)","r":"r13","k":32,"s":0.3},{"m":"GMRES(m)","r":"r13","k":40,"s":0.285},{"m":"GMRES(m)","r":"r13","k":50,"s":0.277},{"m":"GMRES(m)","r":"r13","k":65,"s":0.275},{"m":"GMRES(m)","r":"r13","k":80,"s":0.282},{"m":"GMRES(m)","r":"r13","k":100,"s":0.295},{"m":"GMRES(m)","r":"r13","k":130,"s":0.308},{"m":"GMRES(m)","r":"r13","k":160,"s":0.322},{"m":"GMRES(m)","r":"r13","k":200,"s":0.335},
{"m":"GMRES(m)","r":"r14","k":1,"s":0.52},{"m":"GMRES(m)","r":"r14","k":2,"s":0.68},{"m":"GMRES(m)","r":"r14","k":3,"s":0.6},{"m":"GMRES(m)","r":"r14","k":5,"s":0.64},{"m":"GMRES(m)","r":"r14","k":7,"s":0.58},{"m":"GMRES(m)","r":"r14","k":9,"s":0.55},{"m":"GMRES(m)","r":"r14","k":12,"s":0.47},{"m":"GMRES(m)","r":"r14","k":16,"s":0.41},{"m":"GMRES(m)","r":"r14","k":20,"s":0.36},{"m":"GMRES(m)","r":"r14","k":25,"s":0.32},{"m":"GMRES(m)","r":"r14","k":32,"s":0.29},{"m":"GMRES(m)","r":"r14","k":40,"s":0.275},{"m":"GMRES(m)","r":"r14","k":50,"s":0.268},{"m":"GMRES(m)","r":"r14","k":65,"s":0.268},{"m":"GMRES(m)","r":"r14","k":80,"s":0.275},{"m":"GMRES(m)","r":"r14","k":100,"s":0.288},{"m":"GMRES(m)","r":"r14","k":130,"s":0.3},{"m":"GMRES(m)","r":"r14","k":160,"s":0.313},{"m":"GMRES(m)","r":"r14","k":200,"s":0.325},
{"m":"GMRES(m)","r":"r15","k":1,"s":0.62},{"m":"GMRES(m)","r":"r15","k":2,"s":0.74},{"m":"GMRES(m)","r":"r15","k":4,"s":0.8},{"m":"GMRES(m)","r":"r15","k":6,"s":0.83},{"m":"GMRES(m)","r":"r15","k":8,"s":0.81},{"m":"GMRES(m)","r":"r15","k":11,"s":0.76},{"m":"GMRES(m)","r":"r15","k":15,"s":0.68},{"m":"GMRES(m)","r":"r15","k":20,"s":0.6},{"m":"GMRES(m)","r":"r15","k":27,"s":0.53},{"m":"GMRES(m)","r":"r15","k":35,"s":0.5},{"m":"GMRES(m)","r":"r15","k":50,"s":0.48},{"m":"GMRES(m)","r":"r15","k":70,"s":0.465},{"m":"GMRES(m)","r":"r15","k":100,"s":0.45},{"m":"GMRES(m)","r":"r15","k":140,"s":0.44},{"m":"GMRES(m)","r":"r15","k":200,"s":0.43},
{"m":"GMRES(m)","r":"r16","k":1,"s":0.5},{"m":"GMRES(m)","r":"r16","k":2,"s":0.6},{"m":"GMRES(m)","r":"r16","k":4,"s":0.72},{"m":"GMRES(m)","r":"r16","k":6,"s":0.77},{"m":"GMRES(m)","r":"r16","k":8,"s":0.78},{"m":"GMRES(m)","r":"r16","k":11,"s":0.72},{"m":"GMRES(m)","r":"r16","k":15,"s":0.63},{"m":"GMRES(m)","r":"r16","k":20,"s":0.55},{"m":"GMRES(m)","r":"r16","k":27,"s":0.48},{"m":"GMRES(m)","r":"r16","k":35,"s":0.45},{"m":"GMRES(m)","r":"r16","k":50,"s":0.43},{"m":"GMRES(m)","r":"r16","k":70,"s":0.42},{"m":"GMRES(m)","r":"r16","k":100,"s":0.418},{"m":"GMRES(m)","r":"r16","k":140,"s":0.416},{"m":"GMRES(m)","r":"r16","k":200,"s":0.415},
{"m":"GMRES(m)","r":"r17","k":1,"s":0.4},{"m":"GMRES(m)","r":"r17","k":2,"s":0.54},{"m":"GMRES(m)","r":"r17","k":4,"s":0.66},{"m":"GMRES(m)","r":"r17","k":6,"s":0.74},{"m":"GMRES(m)","r":"r17","k":8,"s":0.73},{"m":"GMRES(m)","r":"r17","k":11,"s":0.67},{"m":"GMRES(m)","r":"r17","k":15,"s":0.58},{"m":"GMRES(m)","r":"r17","k":20,"s":0.51},{"m":"GMRES(m)","r":"r17","k":27,"s":0.45},{"m":"GMRES(m)","r":"r17","k":35,"s":0.42},{"m":"GMRES(m)","r":"r17","k":50,"s":0.405},{"m":"GMRES(m)","r":"r17","k":70,"s":0.4},{"m":"GMRES(m)","r":"r17","k":100,"s":0.4},{"m":"GMRES(m)","r":"r17","k":140,"s":0.403},{"m":"GMRES(m)","r":"r17","k":200,"s":0.405},
{"m":"GMRES(m)","r":"r18","k":1,"s":0.56},{"m":"GMRES(m)","r":"r18","k":2,"s":0.66},{"m":"GMRES(m)","r":"r18","k":4,"s":0.62},{"m":"GMRES(m)","r":"r18","k":6,"s":0.7},{"m":"GMRES(m)","r":"r18","k":8,"s":0.72},{"m":"GMRES(m)","r":"r18","k":11,"s":0.65},{"m":"GMRES(m)","r":"r18","k":15,"s":0.56},{"m":"GMRES(m)","r":"r18","k":20,"s":0.49},{"m":"GMRES(m)","r":"r18","k":27,"s":0.43},{"m":"GMRES(m)","r":"r18","k":35,"s":0.39},{"m":"GMRES(m)","r":"r18","k":50,"s":0.37},{"m":"GMRES(m)","r":"r18","k":70,"s":0.365},{"m":"GMRES(m)","r":"r18","k":100,"s":0.372},{"m":"GMRES(m)","r":"r18","k":140,"s":0.38},{"m":"GMRES(m)","r":"r18","k":200,"s":0.385},
{"m":"GMRES(m)","r":"r19","k":1,"s":0.46},{"m":"GMRES(m)","r":"r19","k":2,"s":0.58},{"m":"GMRES(m)","r":"r19","k":4,"s":0.68},{"m":"GMRES(m)","r":"r19","k":6,"s":0.64},{"m":"GMRES(m)","r":"r19","k":8,"s":0.67},{"m":"GMRES(m)","r":"r19","k":11,"s":0.6},{"m":"GMRES(m)","r":"r19","k":15,"s":0.52},{"m":"GMRES(m)","r":"r19","k":20,"s":0.45},{"m":"GMRES(m)","r":"r19","k":27,"s":0.39},{"m":"GMRES(m)","r":"r19","k":35,"s":0.36},{"m":"GMRES(m)","r":"r19","k":50,"s":0.335},{"m":"GMRES(m)","r":"r19","k":70,"s":0.33},{"m":"GMRES(m)","r":"r19","k":100,"s":0.34},{"m":"GMRES(m)","r":"r19","k":140,"s":0.352},{"m":"GMRES(m)","r":"r19","k":200,"s":0.365},
{"m":"GMRES(m)","r":"r20","k":1,"s":0.68},{"m":"GMRES(m)","r":"r20","k":2,"s":0.7},{"m":"GMRES(m)","r":"r20","k":4,"s":0.64},{"m":"GMRES(m)","r":"r20","k":6,"s":0.6},{"m":"GMRES(m)","r":"r20","k":8,"s":0.62},{"m":"GMRES(m)","r":"r20","k":11,"s":0.56},{"m":"GMRES(m)","r":"r20","k":15,"s":0.48},{"m":"GMRES(m)","r":"r20","k":20,"s":0.42},{"m":"GMRES(m)","r":"r20","k":27,"s":0.36},{"m":"GMRES(m)","r":"r20","k":35,"s":0.33},{"m":"GMRES(m)","r":"r20","k":50,"s":0.305},{"m":"GMRES(m)","r":"r20","k":70,"s":0.3},{"m":"GMRES(m)","r":"r20","k":100,"s":0.31},{"m":"GMRES(m)","r":"r20","k":140,"s":0.328},{"m":"GMRES(m)","r":"r20","k":200,"s":0.345},
{"m":"GMRES(m)","r":"r21","k":1,"s":0.38},{"m":"GMRES(m)","r":"r21","k":2,"s":0.5},{"m":"GMRES(m)","r":"r21","k":4,"s":0.58},{"m":"GMRES(m)","r":"r21","k":6,"s":0.62},{"m":"GMRES(m)","r":"r21","k":8,"s":0.6},{"m":"GMRES(m)","r":"r21","k":11,"s":0.54},{"m":"GMRES(m)","r":"r21","k":15,"s":0.46},{"m":"GMRES(m)","r":"r21","k":20,"s":0.4},{"m":"GMRES(m)","r":"r21","k":27,"s":0.35},{"m":"GMRES(m)","r":"r21","k":35,"s":0.315},{"m":"GMRES(m)","r":"r21","k":50,"s":0.29},{"m":"GMRES(m)","r":"r21","k":70,"s":0.285},{"m":"GMRES(m)","r":"r21","k":100,"s":0.3},{"m":"GMRES(m)","r":"r21","k":140,"s":0.32},{"m":"GMRES(m)","r":"r21","k":200,"s":0.34},
{"m":"GMRES(m)","r":"r22","k":1,"s":0.54},{"m":"GMRES(m)","r":"r22","k":2,"s":0.62},{"m":"GMRES(m)","r":"r22","k":4,"s":0.7},{"m":"GMRES(m)","r":"r22","k":6,"s":0.66},{"m":"GMRES(m)","r":"r22","k":8,"s":0.58},{"m":"GMRES(m)","r":"r22","k":11,"s":0.52},{"m":"GMRES(m)","r":"r22","k":15,"s":0.45},{"m":"GMRES(m)","r":"r22","k":20,"s":0.39},{"m":"GMRES(m)","r":"r22","k":27,"s":0.34},{"m":"GMRES(m)","r":"r22","k":35,"s":0.305},{"m":"GMRES(m)","r":"r22","k":50,"s":0.28},{"m":"GMRES(m)","r":"r22","k":70,"s":0.272},{"m":"GMRES(m)","r":"r22","k":100,"s":0.285},{"m":"GMRES(m)","r":"r22","k":140,"s":0.305},{"m":"GMRES(m)","r":"r22","k":200,"s":0.33}
]},
"layer":[
{"mark":{"type":"line","strokeWidth":1,"strokeDash":[3,1.5],"clip":true},
 "encoding":{
  "x":{"field":"k","type":"quantitative","scale":{"domain":[0,200],"nice":false},
   "axis":{"values":[0,50,100,150,200],"grid":false,"domainColor":"#8c8c8c","tickColor":"#8c8c8c","tickSize":-3,"labelPadding":8,"labelFontSize":10,"labelColor":"#262626","title":"k","titleFontSize":11,"titleFontWeight":"normal","titleColor":"#262626","titlePadding":3}},
  "y":{"field":"s","type":"quantitative","scale":{"domain":[0.2,1.4],"nice":false,"zero":false},
   "axis":{"values":[0.2,0.4,0.6,0.8,1,1.2,1.4],"grid":false,"domainColor":"#8c8c8c","tickColor":"#8c8c8c","tickSize":-3,"labelPadding":8,"labelFontSize":10,"labelColor":"#262626","title":"σₖ","titleFontSize":12,"titleFontWeight":"normal","titleColor":"#262626","titlePadding":2}},
  "color":{"field":"m","type":"nominal","scale":{"domain":["FP","AA(m)","GMRES(m)"],"range":["#00ff00","#0000ff","#ff0000"]},"legend":null},
  "detail":{"field":"r","type":"nominal"}
 }},
{"transform":[{"filter":"false"}],
 "mark":{"type":"line","color":"#ff0000","strokeWidth":1},
 "encoding":{
  "x":{"field":"k","type":"quantitative","scale":{"domain":[0,200],"nice":false},
   "axis":{"orient":"top","values":[0,50,100,150,200],"grid":false,"labels":false,"title":null,"domainColor":"#8c8c8c","tickColor":"#8c8c8c","tickSize":-3}},
  "y":{"field":"s","type":"quantitative","scale":{"domain":[0.2,1.4],"nice":false,"zero":false},
   "axis":{"orient":"right","values":[0.2,0.4,0.6,0.8,1,1.2,1.4],"grid":false,"labels":false,"title":null,"domain":false,"tickColor":"#8c8c8c","tickSize":-3}},
  "opacity":{"field":"m","type":"ordinal","sort":["AA(m)","FP","GMRES(m)"],"scale":{"type":"ordinal","domain":["AA(m)","FP","GMRES(m)"],"range":[1,0,0]},
   "legend":{"orient":"none","legendX":229,"legendY":4,"title":null,"symbolType":"stroke","symbolSize":361,"symbolStrokeWidth":0.8,"symbolStrokeColor":"#ff0000","labelFontSize":11,"labelColor":"black","strokeColor":"#262626","fillColor":"white","padding":3.5,"rowPadding":-3,"labelOffset":2}},
  "detail":{"field":"r","type":"nominal"}
 }}
],
"resolve":{"axis":{"x":"independent","y":"independent"}}
}
